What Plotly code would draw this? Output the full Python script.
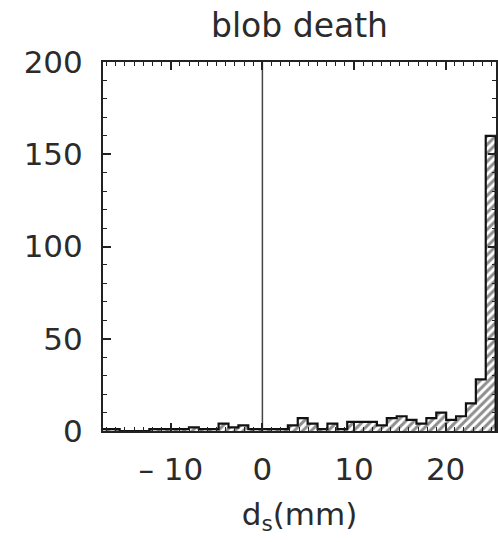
import plotly.graph_objects as go

# Histogram bin left edges (mm) and counts
bin_left = [-17.74, -16.66, -15.58, -14.50, -13.42, -12.34, -11.26, -10.18, -9.10, -8.02,
            -6.94, -5.86, -4.78, -3.70, -2.62, -1.54, -0.46, 0.62, 1.70, 2.78,
            3.86, 4.94, 6.02, 7.10, 8.18, 9.26, 10.34, 11.42, 12.50, 13.58,
            14.66, 15.74, 16.82, 17.90, 18.98, 20.06, 21.14, 22.22, 23.30, 24.38]
bin_width = 1.08
counts = [1, 1, 0, 0, 0, 1, 1, 1, 1, 2,
          1, 1, 4, 2, 3, 1, 1, 1, 1, 3,
          7, 4, 1, 4, 1, 5, 5, 5, 3, 7,
          8, 6, 4, 7, 10, 6, 8, 15, 28, 160]

x_ticks = [-10, 0, 10, 20]
x_tick_text = ["– 10", "0", "10", "20"]
y_ticks = [0, 50, 100, 150, 200]
title_text = "blob death"
x_title = "d<sub>s</sub>(mm)"

FONT = "DejaVu Sans"
TXT = "#2b2b2b"

centers = [b + bin_width / 2 for b in bin_left]
edges = bin_left + [bin_left[-1] + bin_width]

fig = go.Figure()
fig.add_trace(go.Bar(
    x=centers, y=counts, width=[bin_width] * len(counts),
    marker=dict(color="white", line=dict(width=0),
                pattern=dict(shape="/", fgcolor="#1e1e1e", bgcolor="white",
                             size=6, solidity=0.5)),
    showlegend=False, hoverinfo="skip"))
# step outline
fig.add_trace(go.Scatter(
    x=edges + [edges[-1]], y=counts + [counts[-1], 0],
    mode="lines", line=dict(shape="hv", color="#111111", width=2.2),
    showlegend=False, hoverinfo="skip"))
# vertical reference line at 0
fig.add_trace(go.Scatter(
    x=[0, 0], y=[0, 200], mode="lines",
    line=dict(color="#444444", width=1.5), showlegend=False, hoverinfo="skip"))

fig.update_layout(
    width=498, height=542,
    margin=dict(l=103, r=0, t=62, b=111),
    paper_bgcolor="white", plot_bgcolor="white",
    bargap=0,
    font=dict(family=FONT, color=TXT, size=31),
    title=dict(text=title_text, x=0.5, xanchor="center", xref="paper",
               y=1 - 25 / 542, yanchor="middle", yref="container",
               font=dict(family=FONT, size=33, color=TXT)),
)
fig.update_xaxes(
    range=[-17.4, 25.5], tickmode="array", tickvals=x_ticks, ticktext=x_tick_text,
    ticks="inside", ticklen=8, tickwidth=1.5, tickcolor="#222222",
    showline=True, linecolor="#222222", linewidth=2, mirror="allticks",
    showgrid=False, zeroline=False,
    minor=dict(tick0=0, dtick=1, ticks="inside", ticklen=4, tickwidth=1, tickcolor="#222222"),
    ticklabelstandoff=10,
    title=dict(text=x_title, font=dict(family=FONT, size=31, color=TXT), standoff=17),
)
fig.update_yaxes(
    range=[0, 200], tickmode="array", tickvals=y_ticks,
    ticks="inside", ticklen=8, tickwidth=1.5, tickcolor="#222222",
    showline=True, linecolor="#222222", linewidth=2, mirror="allticks",
    showgrid=False, zeroline=False,
    minor=dict(tick0=0, dtick=10, ticks="inside", ticklen=4, tickwidth=1, tickcolor="#222222"),
    ticklabelstandoff=12,
)

fig.write_html("out.html")
